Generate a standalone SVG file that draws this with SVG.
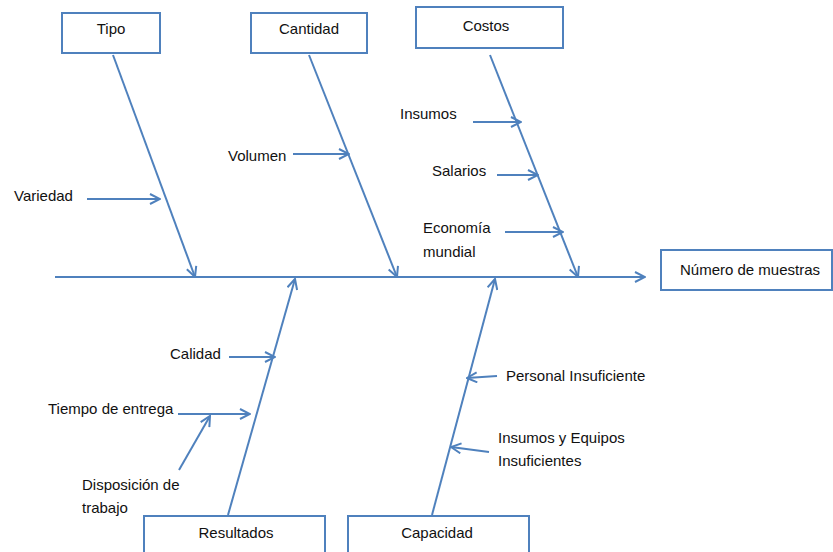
<svg xmlns="http://www.w3.org/2000/svg" width="833" height="552" viewBox="0 0 833 552">
<style>
.box{fill:#fff;stroke:#4F81BD;stroke-width:2}
.ln{fill:none;stroke:#4F81BD;stroke-width:2}
.ar{fill:none;stroke:#4F81BD;stroke-width:2;marker-end:url(#ah)}
text{font-family:"Liberation Sans",Arial,sans-serif;font-size:15px;fill:#111}
.c{text-anchor:middle}
</style>
<defs>
<marker id="ah" viewBox="0 0 12 12" refX="11" refY="6" markerWidth="12" markerHeight="12" markerUnits="userSpaceOnUse" orient="auto">
<path d="M1,1 L11,6 L1,11" fill="none" stroke="#4F81BD" stroke-width="2"/>
</marker>
</defs>
<g id="connectors">
<line class="ar" x1="55" y1="277" x2="645" y2="277"/>
<line class="ar" x1="113" y1="55" x2="195" y2="277"/>
<line class="ar" x1="309" y1="55" x2="397" y2="277"/>
<line class="ar" x1="490" y1="55" x2="578" y2="277"/>
<line class="ar" x1="228" y1="515" x2="295" y2="279"/>
<line class="ar" x1="432" y1="515" x2="495" y2="279"/>
<line class="ar" x1="87" y1="199" x2="160" y2="199"/>
<line class="ar" x1="293" y1="154" x2="349" y2="154"/>
<line class="ar" x1="473" y1="122" x2="521" y2="122"/>
<line class="ar" x1="497" y1="175" x2="538" y2="175"/>
<line class="ar" x1="505" y1="232" x2="563" y2="232"/>
<line class="ar" x1="229" y1="357" x2="275" y2="357"/>
<line class="ar" x1="178" y1="414" x2="250" y2="414"/>
<line class="ar" x1="179" y1="470" x2="210" y2="416"/>
<line class="ar" x1="497" y1="376" x2="467" y2="378"/>
<line class="ar" x1="489" y1="452" x2="451" y2="447"/>
</g>
<g id="tipo"><rect class="box" x="62" y="13" width="98" height="40"/><text class="c" x="111" y="34">Tipo</text></g>
<g id="cantidad"><rect class="box" x="251" y="13" width="116" height="40"/><text class="c" x="309" y="34">Cantidad</text></g>
<g id="costos"><rect class="box" x="416" y="7" width="147" height="41"/><text class="c" x="486" y="31">Costos</text></g>
<g id="efecto"><rect class="box" x="661" y="250" width="171" height="40"/><text class="c" x="750" y="275">Número de muestras</text></g>
<g id="resultados"><rect class="box" x="144" y="516" width="181" height="45"/><text class="c" x="236" y="538">Resultados</text></g>
<g id="capacidad"><rect class="box" x="348" y="516" width="181" height="45"/><text class="c" x="437" y="538">Capacidad</text></g>
<g id="variedad"><text x="14" y="201">Variedad</text></g>
<g id="volumen"><text x="228" y="161">Volumen</text></g>
<g id="insumos"><text x="400" y="119">Insumos</text></g>
<g id="salarios"><text x="432" y="176">Salarios</text></g>
<g id="economia"><text x="423" y="233">Economía</text><text x="423" y="257">mundial</text></g>
<g id="calidad"><text x="170" y="359">Calidad</text></g>
<g id="tiempo"><text x="48" y="414">Tiempo de entrega</text></g>
<g id="disposicion"><text x="82" y="490">Disposición de</text><text x="82" y="513">trabajo</text></g>
<g id="personal"><text x="506" y="381">Personal Insuficiente</text></g>
<g id="equipos"><text x="498" y="443">Insumos y Equipos</text><text x="498" y="466">Insuficientes</text></g>
</svg>
